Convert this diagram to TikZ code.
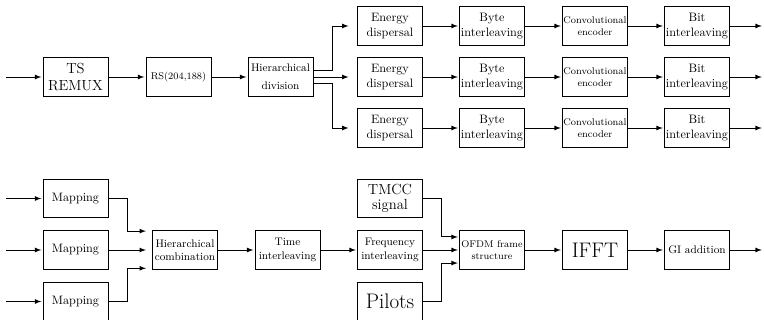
\documentclass[tikz,border=0pt]{standalone}
\usetikzlibrary{arrows}
\begin{document}
\begin{tikzpicture}[x=0.82pt,y=-0.82pt,thick,block/.style={rectangle,draw,minimum width=53.3pt,minimum height=31.6pt,inner sep=0.5pt,align=center}]%fill=white,
\useasboundingbox (0,0) rectangle (764,320);
\clip (0,0) rectangle (764,320);
\begin{scope}
% upper chain
\node[block,font=\large] (ts) at (75.5,77) {TS\\REMUX};
\node[block,font=\footnotesize] (rs) at (178.5,77) {RS(204,188)};
\node[block,font=\small] (dv) at (280.5,77) {Hierarchical\\[4pt]division};
\foreach \i/\y in {1/26,2/77,3/128}{
\node[block] (en\i) at (390,\y) {Energy\\dispersal};
\node[block] (by\i) at (492,\y) {Byte\\interleaving};
\node[block,font=\footnotesize] (cv\i) at (595,\y) {Convolutional\\encoder};
\node[block] (bi\i) at (697,\y) {Bit\\interleaving};
\coordinate (out\i) at (763,\y);
}
\coordinate (in0) at (6,77);
% lower chain
\foreach \i/\y in {1/198.5,2/250,3/301.5}{
\node[block] (mp\i) at (75.5,\y) {Mapping};
\coordinate (inm\i) at (6,\y);
}
\node[block,font=\small] (hc) at (185,250) {Hierarchical\\combination};
\node[block,font=\small] (ti) at (287.5,250) {Time\\interleaving};
\node[block,font=\large] (tm) at (390,198.5) {TMCC\\[-2pt]signal};
\node[block,font=\small] (fi) at (390,250) {Frequency\\interleaving};
\node[block,font=\LARGE] (pi) at (390,301.5) {Pilots};
\node[block,font=\footnotesize] (of) at (492,250) {OFDM frame\\structure};
\node[block,font=\LARGE] (ft) at (595,250) {IFFT};
\node[block,font=\small] (gi) at (697,250) {GI addition};
\coordinate (out4) at (763,250);
%\node[block] () at (,) {};
\end{scope}
\begin{scope}[-latex,shorten >=1pt]
\draw (in0) -- (ts);
\draw (ts) -- (rs);
\draw (rs) -- (dv);
\draw[shorten >=7pt] ([yshift=5.2pt]dv.east) -- ++(19,0) |- (en1);
\draw[shorten >=7pt] (dv) -- (en2);
\draw[shorten >=7pt] ([yshift=-5.2pt]dv.east) -- ++(19,0) |- (en3);
\foreach \i in {1,2,3}{
\draw (en\i) -- (by\i);
\draw (by\i) -- (cv\i);
\draw (cv\i) -- (bi\i);
\draw (bi\i) -- (out\i);
\draw (inm\i) -- (mp\i);
}
\draw[shorten >=5pt] (mp1) -- ++(51.5,0) |- ([yshift=15.5pt]hc.west);
\draw[shorten >=5pt] (mp2) -- (hc);
\draw[shorten >=5pt] (mp3) -- ++(51.5,0) |- ([yshift=-15pt]hc.west);
\draw (hc) -- (ti);
\draw (ti) -- (fi);
\draw (tm) -- ++(51,0) |- ([yshift=10.7pt]of.west);
\draw (fi) -- (of);
\draw (pi) -- ++(51,0) |- ([yshift=-10.7pt]of.west);
\draw (of) -- (ft);
\draw (ft) -- (gi);
\draw (gi) -- (out4);
%\draw (a) -- (b);
\end{scope}
\end{tikzpicture}
\end{document}
